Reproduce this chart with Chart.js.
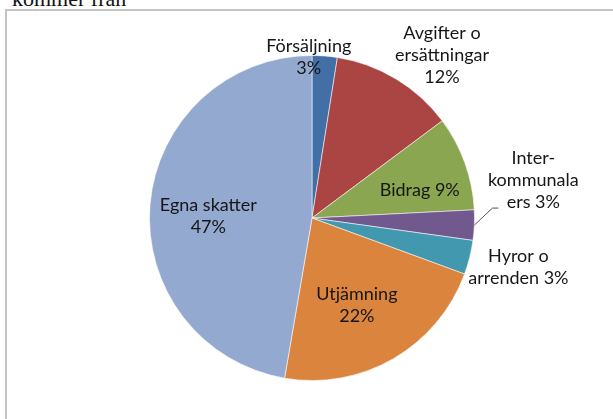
<!DOCTYPE html>
<html>
<head>
<meta charset="utf-8">
<script src="https://cdn.jsdelivr.net/npm/chart.js@4/dist/chart.umd.min.js"></script>
<style>
  html, body { margin: 0; padding: 0; background: #fff; overflow: hidden; }
  body { width: 613px; height: 419px; position: relative; }
  #frame { position: absolute; left: 5px; top: 9px; width: 800px; height: 600px;
           border-left: 2px solid #c4c4c4; border-top: 2px solid #c4c4c4; }
  #caption { position: absolute; left: 12px; top: -12px; font-family: "Liberation Serif", "DejaVu Serif", serif;
             font-size: 22px; line-height: 22px; color: #111; white-space: nowrap; }
  #c { position: absolute; left: 0; top: 0; }
</style>
</head>
<body>
<div id="caption">kommer från</div>
<div id="frame"></div>
<canvas id="c" width="613" height="419"></canvas>
<script>
// Data (share of income, %)
const categories = ["Försäljning", "Avgifter o ersättningar", "Bidrag", "Inter-kommunala ers", "Hyror o arrenden", "Utjämning", "Egna skatter"];
const shares = [2.5, 12.3, 9.4, 3.0, 3.4, 22.1, 47.3];
const percentLabels = ["3%", "12%", "9%", "3%", "3%", "22%", "47%"];
// Text lines of each data label (as printed in the chart)
const labelLines = [
  ["Försäljning", "3%"],
  ["Avgifter o", "ersättningar", "12%"],
  ["Bidrag 9%"],
  ["Inter-", "kommunala", "ers 3%"],
  ["Hyror o", "arrenden 3%"],
  ["Utjämning", "22%"],
  ["Egna skatter", "47%"]
];
const colors = ["#416FA6", "#AA4543", "#8BA651", "#71588F", "#4198AF", "#DB843D", "#93A9CF"];

// label block centres relative to pie centre, in units of the radius
const labelOffsets = [
  [-0.02, -0.99],
  [0.80, -1.0],
  [0.663, -0.17],
  [1.362, -0.233],
  [1.270, 0.301],
  [0.276, 0.537],
  [-0.638, -0.012]
];

const labelPlugin = {
  id: 'pieLabels',
  afterDatasetsDraw(chart) {
    const ctx = chart.ctx;
    const meta = chart.getDatasetMeta(0);
    const arc0 = meta.data[0];
    const cx = arc0.x, cy = arc0.y, r = arc0.outerRadius;
    ctx.save();
    // leader line for the small "Inter-kommunala" slice
    const a = meta.data[3];
    const mid = (a.startAngle + a.endAngle) / 2;
    const sx = cx + Math.cos(mid) * r, sy = cy + Math.sin(mid) * r;
    ctx.strokeStyle = '#555';
    ctx.lineWidth = 1;
    ctx.beginPath();
    ctx.moveTo(sx, sy);
    ctx.lineTo(cx + 1.11 * r, cy - 0.061 * r);
    ctx.lineTo(cx + 1.147 * r, cy - 0.061 * r);
    ctx.stroke();

    ctx.fillStyle = '#161616';
    ctx.font = '18px Lato';
    ctx.textAlign = 'center';
    ctx.textBaseline = 'middle';
    const lh = 22;
    labelLines.forEach((lines, i) => {
      const bx = cx + labelOffsets[i][0] * r;
      const by = cy + labelOffsets[i][1] * r;
      const top = by - (lines.length - 1) * lh / 2;
      lines.forEach((t, k) => ctx.fillText(t, bx, top + k * lh));
    });
    ctx.restore();
  }
};

new Chart(document.getElementById('c'), {
  type: 'pie',
  data: {
    labels: categories,
    datasets: [{
      data: shares,
      backgroundColor: colors,
      borderColor: 'rgba(255,255,255,0.55)',
      borderWidth: 1
    }]
  },
  options: {
    responsive: false,
    animation: false,
    devicePixelRatio: 1,
    layout: { padding: { left: 149, right: 138, top: 55, bottom: 38 } },
    plugins: { legend: { display: false }, tooltip: { enabled: false } }
  },
  plugins: [labelPlugin]
});
</script>
</body>
</html>
